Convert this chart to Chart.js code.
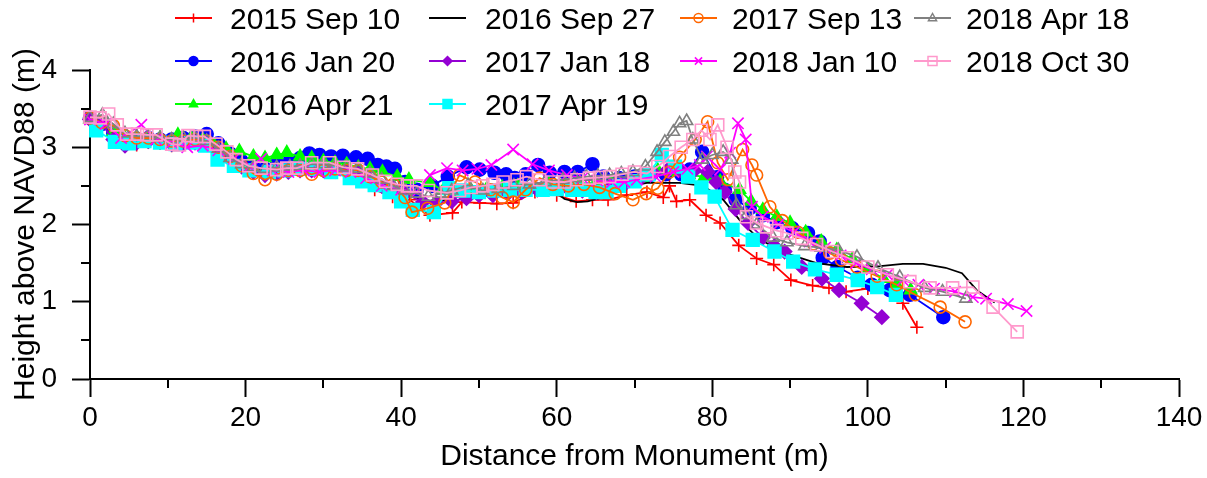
<!DOCTYPE html>
<html>
<head>
<meta charset="utf-8">
<title>Beach profiles</title>
<script src="https://cdn.jsdelivr.net/npm/chart.js"></script>
<style>
  html, body { margin: 0; padding: 0; background: #fff; }
  #wrap { width: 1207px; height: 478px; }
</style>
</head>
<body>
<div id="wrap"><canvas id="profiles" width="1207" height="478"></canvas></div>
<script>
// survey dates, legend order
const surveyDates = ['2015 Sep 10', '2016 Jan 20', '2016 Apr 21', '2016 Sep 27', '2017 Jan 18',
  '2017 Apr 19', '2017 Sep 13', '2018 Jan 10', '2018 Apr 18', '2018 Oct 30'];

// profile points: [distance from monument (m), height above NAVD88 (m)]
const sep2015 = [[0,3.37],[1.5,3.3],[3,3.15],[4.5,3.02],[6,3.03],[7.5,3.06],[9,3.05],[10.5,3.02],[12,3.04],[13.5,3.06],
  [15,3.05],[16.5,2.95],[18,2.84],[19.5,2.76],[21,2.72],[23,2.7],[25,2.71],[27,2.72],[29,2.73],[31,2.71],[33,2.69],
  [35,2.62],[36.6,2.45],[38.9,2.36],[41.1,2.32],[43.7,2.12],[46.6,2.15],[47.8,2.29],[50.1,2.28],[52.3,2.27],[54.4,2.28],
  [57.2,2.42],[60,2.38],[62.5,2.3],[64.6,2.32],[66.6,2.32],[69,2.38],[71.6,2.42],[73.7,2.35],[74.5,2.5],[75.4,2.3],
  [77.1,2.32],[79.2,2.12],[81,2.02],[83.4,1.73],[85.7,1.56],[87.9,1.48],[90.1,1.28],[92.9,1.21],[95,1.18],[97.2,1.13],
  [100,1.17],[103.2,1.22],[104.5,0.98],[106.3,0.67]];
const jan2016 = [[0,3.38],[1.5,3.3],[3,3.18],[4.5,3.1],[6,3.1],[7.5,3.12],[9,3.1],[10.5,3.1],[12,3.12],[13.5,3.14],
  [15,3.17],[16.5,3.05],[18,2.92],[19.5,2.82],[21,2.75],[22.5,2.72],[24,2.78],[25.5,2.8],[27,2.86],[28.2,2.92],[29.5,2.9],
  [31,2.88],[32.5,2.89],[34.2,2.87],[35.7,2.85],[37,2.77],[38.1,2.75],[39.2,2.72],[40.5,2.55],[42,2.45],[44,2.5],[46,2.62],
  [48.4,2.74],[50.1,2.71],[52,2.67],[53.5,2.65],[54.6,2.6],[56,2.65],[57.6,2.77],[59.1,2.67],[61,2.68],[62.7,2.68],
  [64.6,2.78],[66,2.62],[68,2.6],[70,2.62],[72,2.64],[74,2.65],[76,2.65],[77.1,2.71],[78.7,2.94],[80.6,2.61],[81.6,2.45],
  [83,2.32],[84.8,2.21],[86.5,2.12],[88.3,2.03],[90.3,1.95],[92.3,1.89],[93.8,1.78],[94.2,1.57],[96.1,1.45],[98.7,1.31],
  [100.5,1.22],[102.8,1.15],[105.4,1.09],[109.7,0.8]];
const apr2016 = [[0,3.36],[1.5,3.32],[3,3.2],[4.5,3.12],[6,3.1],[7.5,3.12],[9,3.12],[11.3,3.16],[13,3.12],[14.5,3.1],
  [16,3.02],[17.5,2.98],[19.2,2.95],[21,2.88],[22.5,2.86],[24,2.9],[25.3,2.93],[27,2.88],[28.5,2.86],[30,2.82],[31.5,2.8],
  [33,2.78],[34.5,2.74],[36,2.72],[37.6,2.68],[39.5,2.62],[41,2.58],[43.7,2.54],[45.4,2.44],[47,2.42],[49,2.44],[51,2.46],
  [53,2.48],[55,2.5],[57,2.5],[59,2.52],[61,2.52],[63,2.53],[65,2.54],[67,2.55],[69,2.56],[71,2.6],[73,2.7],[75,2.68],
  [77,2.64],[79,2.62],[81,2.56],[83.5,2.45],[85,2.3],[86.5,2.19],[88.3,2.1],[90,2.02],[92,1.9],[94,1.78],[96,1.67],
  [98,1.55],[100,1.42],[102,1.3],[103.7,1.22],[105.5,1.15]];
const sep2016 = [[0,3.36],[2,3.28],[4,3.1],[6,3.08],[8,3.1],[10,3.06],[12,3.06],[14,3.07],[16,3.0],[18,2.86],[20,2.76],
  [22,2.7],[24,2.7],[26,2.72],[28,2.74],[30,2.73],[32,2.72],[34,2.7],[36,2.6],[38,2.52],[40,2.42],[42,2.34],[44,2.3],
  [46,2.32],[48,2.38],[50,2.4],[52,2.42],[54,2.44],[56,2.45],[58,2.45],[59.5,2.45],[61,2.33],[62.6,2.29],[64,2.3],
  [65.5,2.34],[68.1,2.47],[71.6,2.54],[75.8,2.54],[78.8,2.5],[80,2.42],[81.4,2.32],[83.5,2.06],[85.7,1.84],[87.8,1.71],
  [90,1.61],[93.4,1.5],[97.3,1.45],[101.6,1.46],[104.5,1.49],[107.1,1.49],[110,1.44],[112.1,1.37],[114,1.15],[116.3,0.99]];
const jan2017 = [[0,3.36],[1.5,3.3],[3,3.1],[4.5,3.02],[6,3.06],[7.5,3.08],[9,3.08],[10.5,3.04],[12,3.05],[13.5,3.06],
  [15,3.04],[16.5,2.95],[18,2.84],[19.5,2.75],[21,2.68],[22.5,2.64],[24,2.66],[25.5,2.68],[27,2.7],[28.5,2.7],[30,2.7],
  [31.5,2.69],[33,2.68],[34.5,2.66],[36,2.58],[37.5,2.5],[39,2.46],[40.5,2.4],[42.8,2.29],[44.5,2.28],[46.5,2.3],
  [48.4,2.34],[50,2.38],[51.8,2.38],[53.7,2.4],[55.5,2.42],[57.5,2.45],[59.5,2.48],[61.5,2.46],[63.3,2.44],[65.1,2.42],
  [67,2.5],[69,2.55],[70.8,2.6],[72.5,2.66],[74.3,2.71],[76,2.7],[77.7,2.7],[79.4,2.68],[80.5,2.55],[81.6,2.42],[83,2.2],
  [84.6,2.02],[86.5,1.83],[88,1.72],[89.3,1.65],[91.5,1.45],[94.1,1.3],[96.3,1.15],[99.2,0.98],[101.8,0.8]];
const apr2017 = [[0.8,3.22],[3.2,3.07],[5,3.05],[7,3.08],[9,3.06],[11,3.04],[13,3.06],[14.8,3.02],[16.4,2.84],[18.5,2.76],
  [20.5,2.7],[23,2.68],[25,2.7],[27,2.72],[29,2.72],[31,2.68],[33.4,2.6],[35,2.56],[36.6,2.51],[38.5,2.42],[40,2.3],
  [41.5,2.19],[44.2,2.16],[46.2,2.47],[48,2.44],[50,2.42],[52,2.44],[54,2.45],[56,2.45],[58.2,2.45],[60,2.46],[62,2.45],
  [63.6,2.45],[65,2.42],[66.4,2.42],[68,2.5],[70,2.56],[71.8,2.65],[73.5,2.9],[75.2,2.75],[76.9,2.62],[78.6,2.48],
  [80.3,2.36],[82.6,1.93],[85.2,1.8],[88,1.65],[90.4,1.52],[93.2,1.42],[96,1.35],[98.7,1.28],[101.2,1.19],[103.6,1.09]];
const sep2017 = [[0,3.38],[1.5,3.32],[3,3.28],[4.5,3.15],[6,3.12],[7.5,3.12],[9,3.1],[10.5,3.08],[12,3.08],[13.5,3.1],
  [15,3.08],[16.5,3.0],[18,2.88],[19.5,2.76],[21,2.66],[22.5,2.58],[24,2.65],[25.5,2.7],[27,2.7],[28.5,2.65],[30,2.7],
  [31.5,2.72],[33,2.7],[34.5,2.7],[36,2.62],[37.5,2.55],[39,2.52],[40.5,2.35],[41.4,2.16],[43.4,2.21],[45.6,2.28],
  [47.5,2.64],[49.5,2.55],[51.5,2.45],[53,2.35],[54.4,2.29],[56,2.45],[57.8,2.6],[59.5,2.52],[61.5,2.5],[63.5,2.52],
  [65.5,2.48],[67.5,2.4],[69.8,2.32],[71.5,2.4],[73,2.47],[74.5,2.68],[75.8,2.87],[77.8,3.1],[79.4,3.33],[80.7,2.8],
  [82,2.58],[83.9,2.97],[85.1,2.77],[85.7,2.64],[87.4,2.23],[89,2.05],[91,1.9],[93,1.75],[95.1,1.63],[96.6,1.54],
  [98.6,1.45],[101.2,1.33],[103.7,1.22],[106.1,1.09],[109.3,0.93],[112.5,0.74]];
const jan2018 = [[0,3.36],[2,3.3],[4,3.12],[6.6,3.29],[8.5,3.1],[10.5,3.06],[12.5,3.0],[14.5,3.02],[16.5,2.96],[18.5,2.85],
  [20.5,2.75],[22,2.85],[23.5,2.7],[25.5,2.68],[27.5,2.7],[29.5,2.68],[31.5,2.7],[33.5,2.68],[35.5,2.6],[37.5,2.5],
  [40,2.45],[42,2.42],[43.7,2.64],[45.9,2.73],[47.9,2.7],[49.8,2.72],[51.6,2.77],[54.4,2.97],[56.9,2.78],[59,2.7],
  [61.3,2.64],[63.3,2.6],[65.2,2.57],[67.1,2.55],[68.7,2.55],[70.3,2.58],[72.7,2.62],[75,2.68],[76.8,2.72],[78.4,2.77],
  [79.3,2.88],[81,2.71],[82.3,2.93],[83.3,3.31],[84.3,3.1],[85.1,2.23],[86.5,2.1],[88.5,2.0],[90.5,1.9],[92.5,1.78],
  [94.5,1.7],[96.5,1.6],[98.5,1.5],[100.5,1.42],[102.5,1.35],[104.5,1.28],[106.5,1.22],[108.5,1.17],[111.2,1.13],
  [113.5,1.06],[115.2,1.04],[118,0.97],[120.4,0.88]];
const apr2018 = [[0,3.38],[1.6,3.42],[3,3.3],[4.5,3.18],[6,3.14],[7.5,3.14],[9,3.12],[10.5,3.1],[12,3.12],[13.5,3.12],
  [15,3.08],[16.5,2.98],[18,2.86],[19.5,2.78],[21,2.74],[22.5,2.72],[24,2.74],[25.7,2.75],[27,2.76],[28.5,2.78],[30,2.78],
  [31.5,2.76],[33,2.74],[34.5,2.72],[36,2.66],[37.5,2.58],[39,2.5],[40.5,2.44],[42,2.4],[43.5,2.36],[45,2.4],[46.5,2.44],
  [48.6,2.51],[50.5,2.44],[52.5,2.46],[54.5,2.5],[56.5,2.52],[58.5,2.55],[60.8,2.58],[62.3,2.6],[63.8,2.62],[65.3,2.63],
  [66.8,2.64],[68.3,2.66],[69.8,2.68],[71.4,2.75],[72.9,2.94],[73.9,3.07],[75,3.2],[75.8,3.31],[76.7,3.34],[77.5,3.1],
  [78.7,2.84],[80,2.9],[81.4,2.94],[82.5,2.84],[83.1,2.25],[84.4,2.12],[85.7,2.0],[87.8,1.83],[89.6,1.77],[91.9,1.72],
  [94,1.7],[96.2,1.67],[98.6,1.58],[101.3,1.44],[104.1,1.32],[107.3,1.18],[109.6,1.13],[112.6,1.04]];
const oct2018 = [[0,3.39],[1.3,3.38],[2.4,3.43],[3.5,3.29],[4.7,3.17],[6.1,3.17],[7.3,3.16],[8.5,3.16],[10.5,3.04],
  [11.5,3.03],[12.6,3.15],[13.7,3.14],[14.7,3.14],[16.2,3.04],[17.6,2.94],[18.8,2.84],[20.4,2.76],[22,2.73],[24,2.71],
  [25.3,2.73],[26.6,2.73],[28.5,2.8],[30.8,2.8],[32.6,2.74],[34.4,2.72],[36.3,2.64],[38,2.56],[39.5,2.52],[40.8,2.5],
  [42,2.5],[43.5,2.44],[45.9,2.41],[47.5,2.44],[49,2.48],[50.5,2.5],[51.8,2.52],[53.1,2.55],[54.9,2.58],[56.1,2.62],
  [57.8,2.58],[59.5,2.55],[61,2.55],[62.6,2.58],[64.2,2.6],[65.5,2.61],[66.8,2.62],[68.4,2.65],[70,2.68],[71.6,2.66],
  [73,2.75],[74.5,2.88],[76,3.0],[77.5,3.1],[78.6,3.22],[79.7,3.1],[80.7,3.29],[81.9,3.0],[82.9,2.68],[83.5,2.55],
  [84.4,2.1],[85.7,2.02],[87,1.97],[88.3,1.92],[89.6,1.89],[91.5,1.82],[93.4,1.74],[95.4,1.65],[97.4,1.57],[100,1.45],
  [102.5,1.35],[105.4,1.26],[108,1.18],[110.9,1.18],[113.5,1.19],[116.1,0.93],[119.2,0.61]];

const xTickLabels = [0, 20, 40, 60, 80, 100, 120, 140];
const yTickLabels = [0, 1, 2, 3, 4];

const profiles = [sep2015, jan2016, apr2016, sep2016, jan2017, apr2017, sep2017, jan2018, apr2018, oct2018];

// line colour + marker per survey
const seriesStyle = [
  { color: '#ff0000', marker: 'cross', size: 6.5, fill: false },
  { color: '#0000ff', marker: 'circle', size: 6.5, fill: true },
  { color: '#00ff00', marker: 'triangle', size: 7, fill: true },
  { color: '#000000', marker: null, size: 0, fill: false },
  { color: '#9400d3', marker: 'rectRot', size: 7, fill: true },
  { color: '#00ffff', marker: 'rect', size: 9, fill: true },
  { color: '#ff6600', marker: 'circle', size: 6, fill: false },
  { color: '#ff00ff', marker: 'crossRot', size: 8, fill: false },
  { color: '#808080', marker: 'triangle', size: 7, fill: false },
  { color: '#ff99cc', marker: 'rect', size: 8.5, fill: false }
];

const FONT = "'Liberation Sans', Arial, Helvetica, sans-serif";
Chart.defaults.font.family = FONT;
Chart.defaults.color = '#000';

const datasets = profiles.map((pts, i) => {
  const st = seriesStyle[i];
  return {
    label: surveyDates[i],
    data: pts,
    borderColor: st.color,
    backgroundColor: st.color,
    borderWidth: 1.8,
    pointStyle: st.marker || false,
    pointRadius: st.marker ? st.size : 0,
    pointBorderColor: st.color,
    pointBackgroundColor: st.fill ? st.color : 'rgba(0,0,0,0)',
    pointBorderWidth: 1.6,
    tension: 0,
    fill: false,
    clip: false,
    order: profiles.length - i   // later surveys drawn on top
  };
});

// small marker for the legend
function drawMarker(ctx, style, x, y, r, color, filled) {
  ctx.save();
  ctx.strokeStyle = color;
  ctx.fillStyle = color;
  ctx.lineWidth = 1.5;
  ctx.beginPath();
  if (style === 'cross') {
    ctx.moveTo(x - r, y); ctx.lineTo(x + r, y);
    ctx.moveTo(x, y - r); ctx.lineTo(x, y + r);
  } else if (style === 'crossRot') {
    const d = r * 0.8;
    ctx.moveTo(x - d, y - d); ctx.lineTo(x + d, y + d);
    ctx.moveTo(x - d, y + d); ctx.lineTo(x + d, y - d);
  } else if (style === 'circle') {
    ctx.arc(x, y, r, 0, Math.PI * 2);
  } else if (style === 'triangle') {
    ctx.moveTo(x, y - r);
    ctx.lineTo(x - r * 0.9, y + r * 0.6);
    ctx.lineTo(x + r * 0.9, y + r * 0.6);
    ctx.closePath();
  } else if (style === 'rect') {
    ctx.rect(x - r, y - r, 2 * r, 2 * r);
  } else if (style === 'rectRot') {
    ctx.moveTo(x, y - r); ctx.lineTo(x + r, y); ctx.lineTo(x, y + r); ctx.lineTo(x - r, y);
    ctx.closePath();
  }
  if (filled) ctx.fill();
  ctx.stroke();
  ctx.restore();
}

const legendBox = {
  id: 'legendBox',
  afterDraw(chart) {
    const ctx = chart.ctx;
    const cols = [{ line: 175, text: 230 }, { line: 429, text: 485 }, { line: 680, text: 732 }, { line: 914, text: 966 }];
    const rows = [18, 61, 104];
    const perCol = [3, 3, 2, 2];
    let k = 0;
    ctx.save();
    ctx.font = '30px ' + FONT;
    ctx.textBaseline = 'alphabetic';
    ctx.textAlign = 'left';
    perCol.forEach((n, c) => {
      for (let r = 0; r < n; r++, k++) {
        const st = seriesStyle[k];
        const y = rows[r];
        const x0 = cols[c].line;
        ctx.strokeStyle = st.color;
        ctx.lineWidth = 2;
        ctx.beginPath();
        ctx.moveTo(x0, y); ctx.lineTo(x0 + 37, y);
        ctx.stroke();
        if (st.marker) drawMarker(ctx, st.marker, x0 + 18.5, y, 4.5, st.color, st.fill);
        ctx.fillStyle = '#000';
        ctx.fillText(surveyDates[k], cols[c].text, y + 10.5);
      }
    });
    ctx.restore();
  }
};

const minorTicks = {
  id: 'minorTicks',
  afterDraw(chart) {
    const { ctx, chartArea: a, scales: { x, y } } = chart;
    ctx.save();
    ctx.strokeStyle = '#000';
    ctx.lineWidth = 2;
    ctx.beginPath();
    x.ticks.forEach(t => {
      if (!xTickLabels.includes(t.value)) {
        const px = Math.round(x.getPixelForValue(t.value));
        ctx.moveTo(px, a.bottom); ctx.lineTo(px, a.bottom + 9);
      }
    });
    y.ticks.forEach(t => {
      if (!yTickLabels.includes(t.value)) {
        const py = Math.round(y.getPixelForValue(t.value));
        ctx.moveTo(a.left - 9, py); ctx.lineTo(a.left, py);
      }
    });
    ctx.stroke();
    ctx.restore();
  }
};

new Chart(document.getElementById('profiles'), {
  type: 'line',
  data: { datasets },
  options: {
    responsive: false,
    animation: false,
    events: [],
    layout: { padding: { top: 70, right: 28, left: 0, bottom: 0 } },
    plugins: { legend: { display: false }, tooltip: { enabled: false } },
    scales: {
      x: {
        type: 'linear', min: 0, max: 140,
        ticks: {
          stepSize: 10, autoSkip: false, maxRotation: 0, padding: 4,
          font: { size: 28 }, color: '#000',
          callback: v => xTickLabels.includes(v) ? String(v) : ''
        },
        grid: {
          drawOnChartArea: false, drawTicks: true, tickLength: 18, tickWidth: 2,
          tickColor: c => xTickLabels.includes(c.tick.value) ? '#000' : 'rgba(0,0,0,0)'
        },
        border: { color: '#000', width: 2 },
        title: { display: true, text: 'Distance from Monument (m)', font: { size: 30 }, color: '#000', padding: { top: 0, bottom: 3 } },
        afterFit: s => { s.height = 99; }
      },
      y: {
        type: 'linear', min: 0, max: 4,
        ticks: {
          stepSize: 0.5, autoSkip: false, padding: 15, crossAlign: 'near',
          font: { size: 28 }, color: '#000',
          callback: v => yTickLabels.includes(v) ? String(v) : ''
        },
        grid: {
          drawOnChartArea: false, drawTicks: true, tickLength: 18, tickWidth: 2,
          tickColor: c => yTickLabels.includes(c.tick.value) ? '#000' : 'rgba(0,0,0,0)'
        },
        border: { color: '#000', width: 2 },
        title: { display: true, text: 'Height above NAVD88 (m)', font: { size: 30 }, color: '#000', padding: { top: 8, bottom: 0 } },
        afterFit: s => { s.width = 90; }
      }
    }
  },
  plugins: [minorTicks, legendBox]
});
</script>
</body>
</html>
